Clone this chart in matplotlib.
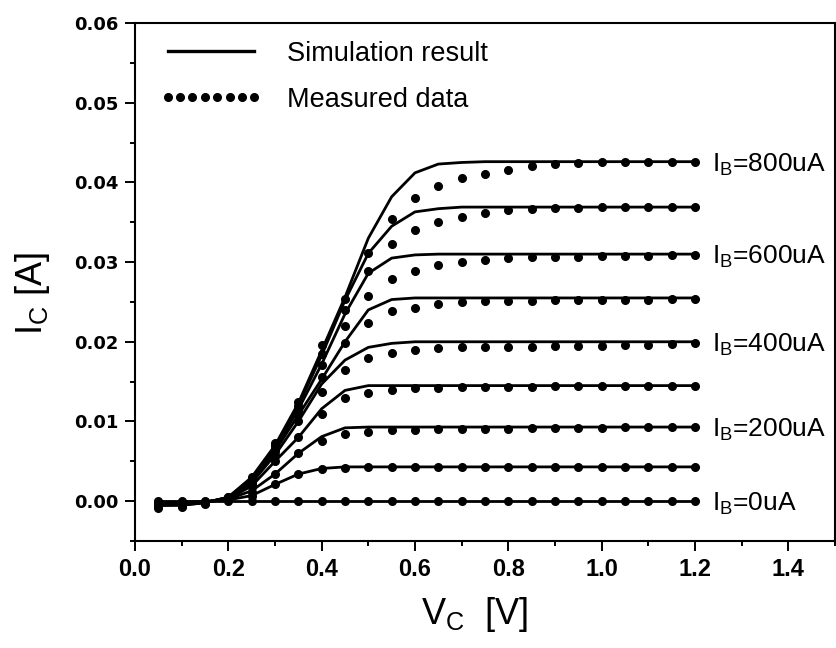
import matplotlib
matplotlib.use("Agg")
import matplotlib.pyplot as plt
from matplotlib.ticker import MultipleLocator, FormatStrFormatter
from matplotlib.lines import Line2D

plt.rcParams["font.family"] = ["Liberation Sans", "DejaVu Sans"]
plt.rcParams["mathtext.default"] = "regular"

# collector voltage [V]
vc = [0.05, 0.10, 0.15, 0.20, 0.25, 0.30, 0.35, 0.40, 0.45, 0.50, 0.55, 0.60,
      0.65, 0.70, 0.75, 0.80, 0.85, 0.90, 0.95, 1.00, 1.05, 1.10, 1.15, 1.20]

ib_ua = [0, 100, 200, 300, 400, 500, 600, 700, 800]

# simulation result, Ic in mA
sim_ma = {
    0:   [0.0] * 24,
    100: [-0.1, -0.1, -0.05, 0.15, 0.7, 2.1, 3.4, 4.1, 4.3, 4.3, 4.3, 4.3,
          4.3, 4.3, 4.3, 4.3, 4.3, 4.3, 4.3, 4.3, 4.3, 4.3, 4.3, 4.3],
    200: [-0.2, -0.2, -0.1, 0.25, 1.3, 3.4, 6.0, 8.1, 9.2, 9.3, 9.3, 9.3,
          9.3, 9.3, 9.3, 9.3, 9.3, 9.3, 9.3, 9.3, 9.3, 9.3, 9.3, 9.3],
    300: [-0.3, -0.3, -0.1, 0.3, 1.9, 5.0, 8.0, 11.6, 13.9, 14.5, 14.5, 14.5,
          14.5, 14.5, 14.5, 14.5, 14.5, 14.5, 14.5, 14.5, 14.5, 14.5, 14.5, 14.5],
    400: [-0.35, -0.35, -0.1, 0.35, 2.3, 5.8, 10.0, 14.7, 17.7, 19.3, 19.8, 20.0,
          20.0, 20.0, 20.0, 20.0, 20.0, 20.0, 20.0, 20.0, 20.0, 20.0, 20.0, 20.0],
    500: [-0.4, -0.4, -0.15, 0.4, 2.5, 6.3, 10.8, 15.3, 20.0, 24.0, 25.3, 25.5,
          25.5, 25.5, 25.5, 25.5, 25.5, 25.5, 25.5, 25.5, 25.5, 25.5, 25.5, 25.5],
    600: [-0.45, -0.45, -0.15, 0.45, 2.7, 6.6, 11.5, 17.2, 23.5, 28.6, 30.5, 30.9,
          31.0, 31.0, 31.0, 31.0, 31.0, 31.0, 31.0, 31.0, 31.0, 31.0, 31.0, 31.0],
    700: [-0.5, -0.5, -0.2, 0.5, 2.9, 6.8, 12.0, 18.3, 25.2, 31.1, 34.5, 36.3,
          36.7, 36.9, 36.9, 36.9, 36.9, 36.9, 36.9, 36.9, 36.9, 36.9, 36.9, 36.9],
    800: [-0.55, -0.5, -0.2, 0.5, 3.0, 7.0, 12.3, 18.9, 25.6, 33.0, 38.2, 41.2,
          42.3, 42.5, 42.6, 42.6, 42.6, 42.6, 42.6, 42.6, 42.6, 42.6, 42.6, 42.6],
}

# measured data, Ic in mA
meas_ma = {
    0:   [0.0] * 24,
    100: [-0.1, -0.1, -0.05, 0.2, 0.7, 2.1, 3.4, 4.0, 4.2, 4.3, 4.3, 4.3,
          4.3, 4.3, 4.3, 4.3, 4.3, 4.3, 4.3, 4.3, 4.3, 4.3, 4.3, 4.3],
    200: [-0.2, -0.2, -0.1, 0.3, 1.2, 3.4, 6.0, 7.6, 8.4, 8.7, 8.9, 8.9,
          9.0, 9.0, 9.1, 9.1, 9.2, 9.2, 9.2, 9.2, 9.3, 9.3, 9.3, 9.3],
    300: [-0.3, -0.3, -0.15, 0.35, 1.8, 5.0, 8.0, 11.0, 12.9, 13.6, 14.0, 14.2,
          14.2, 14.3, 14.3, 14.3, 14.3, 14.4, 14.4, 14.4, 14.4, 14.5, 14.5, 14.5],
    400: [-0.4, -0.4, -0.2, 0.4, 2.1, 5.8, 10.0, 13.7, 16.4, 18.0, 18.6, 19.0,
          19.2, 19.4, 19.4, 19.4, 19.4, 19.5, 19.5, 19.5, 19.6, 19.6, 19.7, 19.8],
    500: [-0.5, -0.45, -0.2, 0.4, 2.4, 6.3, 11.0, 15.6, 19.8, 22.4, 23.8, 24.3,
          24.7, 25.0, 25.1, 25.1, 25.1, 25.2, 25.2, 25.3, 25.3, 25.3, 25.4, 25.4],
    600: [-0.55, -0.5, -0.25, 0.45, 2.6, 6.7, 11.5, 17.1, 22.0, 25.8, 27.9, 28.9,
          29.6, 30.0, 30.3, 30.5, 30.6, 30.7, 30.7, 30.8, 30.8, 30.8, 30.9, 30.9],
    700: [-0.65, -0.55, -0.25, 0.5, 2.8, 7.0, 12.0, 18.5, 24.0, 28.9, 32.3, 34.0,
          35.0, 35.7, 36.1, 36.5, 36.7, 36.8, 36.8, 36.9, 36.9, 36.9, 36.9, 36.9],
    800: [-0.8, -0.7, -0.3, 0.5, 3.0, 7.3, 12.5, 19.6, 25.4, 31.1, 35.4, 38.1,
          39.5, 40.5, 41.1, 41.6, 42.1, 42.3, 42.4, 42.5, 42.5, 42.5, 42.6, 42.6],
}

labelled = [0, 200, 400, 600, 800]

fig = plt.figure(figsize=(8.37, 6.48), dpi=100)
ax = fig.add_axes([0.1613, 0.1651, 0.8363, 0.7994])

for ib in ib_ua:
    sim = [v * 1e-3 for v in sim_ma[ib]]
    meas = [v * 1e-3 for v in meas_ma[ib]]
    ax.plot(vc, sim, color="black", lw=2.0, zorder=2)
    ax.plot(vc, meas, ls="none", marker="o", ms=5.5, color="black", zorder=3)
    if ib in labelled:
        ax.annotate("I$_{B}$=%duA" % ib, xy=(vc[-1], sim[-1]),
                    xytext=(12, -7), textcoords="offset points",
                    fontsize=19, va="baseline", ha="left")

ax.set_xlim(0, 1.5)
ax.set_ylim(-0.005, 0.06)

ax.xaxis.set_major_locator(MultipleLocator(0.2))
ax.xaxis.set_minor_locator(MultipleLocator(0.1))
ax.yaxis.set_major_locator(MultipleLocator(0.01))
ax.yaxis.set_minor_locator(MultipleLocator(0.005))
ax.xaxis.set_major_formatter(FormatStrFormatter("%.1f"))
ax.yaxis.set_major_formatter(FormatStrFormatter("%.2f"))
ax.set_xticks([0.0, 0.2, 0.4, 0.6, 0.8, 1.0, 1.2, 1.4])

for s in ax.spines.values():
    s.set_linewidth(1.5)

ax.tick_params(axis="both", which="major", direction="out", length=7, width=1.4)
ax.tick_params(axis="both", which="minor", direction="out", length=3.5, width=1.4)
ax.tick_params(axis="x", which="major", pad=5)
ax.tick_params(axis="y", which="major", pad=5)

for lab in ax.get_xticklabels():
    lab.set_fontfamily("Liberation Sans")
    lab.set_fontweight("bold")
    lab.set_fontsize(17)
for lab in ax.get_yticklabels():
    lab.set_fontfamily("DejaVu Sans")
    lab.set_fontweight("bold")
    lab.set_fontsize(13)

ax.set_xlabel("V$_{C}$  [V]", fontsize=26,
              family=["Liberation Sans Narrow", "Liberation Sans"])
ax.set_ylabel("I$_{C}$ [A]", fontsize=26)
ax.xaxis.set_label_coords(0.486, -0.105)
ax.yaxis.set_label_coords(-0.118, 0.479)

handles = [
    Line2D([], [], color="black", lw=2.4),
    Line2D([], [], ls="none", marker="o", ms=5.5, color="black"),
]
ax.legend(handles, ["Simulation result", "Measured data"], loc="upper left",
          bbox_to_anchor=(0.035, 0.966), frameon=False, fontsize=19.5,
          numpoints=8, handlelength=3.8, handletextpad=0.9, labelspacing=0.75,
          borderpad=0, borderaxespad=0)

fig.savefig("out.png", dpi=100)
